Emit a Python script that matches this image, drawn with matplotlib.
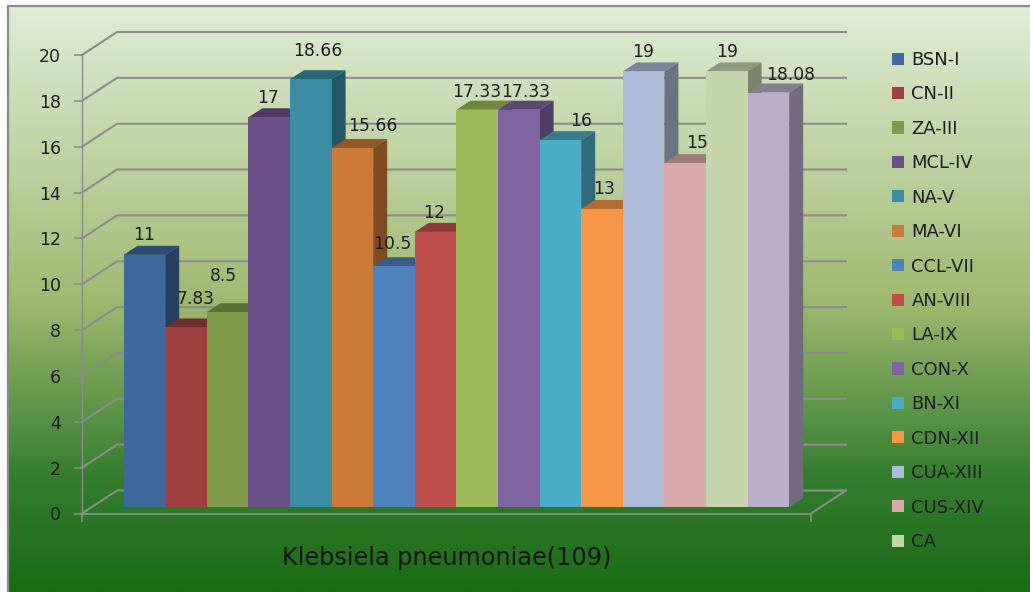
import matplotlib
matplotlib.use("Agg")
import matplotlib.pyplot as plt
import numpy as np
from matplotlib.colors import LinearSegmentedColormap, to_rgb
from matplotlib.patches import Polygon

# zone diameters, last bar has no legend entry
agents = ["BSN-I", "CN-II", "ZA-III", "MCL-IV", "NA-V", "MA-VI", "CCL-VII", "AN-VIII",
          "LA-IX", "CON-X", "BN-XI", "CDN-XII", "CUA-XIII", "CUS-XIV", "CA", ""]
values = [11, 7.83, 8.5, 17, 18.66, 15.66, 10.5, 12, 17.33, 17.33, 16, 13, 19, 15, 19, 18.08]
value_labels = ["11", "7.83", "8.5", "17", "18.66", "15.66", "10.5", "12",
                "17.33", "17.33", "16", "13", "19", "15", "19", "18.08"]
colors = ["#3F689C", "#9C4140", "#7F9B4A", "#6A5087", "#3A8CA5", "#CC7A38", "#4F81BD", "#C0504D",
          "#9BBB59", "#8064A2", "#4BACC6", "#F79646", "#AABAD7", "#D9AAA9", "#C6D6AC", "#B9ADC9"]
yticks = list(range(0, 21, 2))
xlabel = "Klebsiela pneumoniae(109)"

# label nudges in pixels, the labels do not sit evenly over their bars
label_dx = [0, 10, -4, -1, 7, 20, -2, -2, -1, 7, 21, 2, 0, 12, 0, 22]
label_dy = [20, 28, 36, 19, 28, 22, 22, 19, 18, 18, 19, 20, 19, 20, 19, 18]

W, H = 1030, 592
PX = 72 / 100
GRID = "#8c8c8c"
FONT = "DejaVu Sans"

plt.rcParams["font.family"] = FONT


def shade(color, factor):
    return tuple(c * factor for c in to_rgb(color))


def main():
    fig = plt.figure(figsize=(W / 100, H / 100), dpi=100, facecolor="white")
    draw_background(fig)

    ax = fig.add_axes([82 / W, (H - 513.5) / H, (811 - 82) / W, 458.5 / H])
    ax.patch.set_alpha(0)
    xmax = (811 - 82) / 41.6
    ax.set_xlim(0, xmax)
    ax.set_ylim(0, 20)
    unit_y = 458.5 / 20

    # depth of the chart walls and of each bar, in data units
    wall_dx, wall_dy = 35 / 41.6, 23 / unit_y
    bar_dx, bar_dy = 14 / 41.6, 9 / unit_y
    floor = 6.5 / unit_y

    for tick in yticks:
        ax.plot([0, wall_dx, xmax + wall_dx], [tick, tick + wall_dy, tick + wall_dy],
                color=GRID, lw=1.5, clip_on=False, zorder=1)
    ax.plot([xmax, xmax + wall_dx], [0, wall_dy], color=GRID, lw=1.5, clip_on=False, zorder=1)

    handles = []
    for i, (v, c) in enumerate(zip(values, colors)):
        z = 3 + i
        x0 = i + 1
        bar = ax.bar(x0, v, width=1, bottom=floor, align="edge", color=c, label=agents[i],
                     zorder=z + 0.2, clip_on=False)
        top = v + floor
        ax.add_patch(Polygon([(x0, top), (x0 + 1, top), (x0 + 1 + bar_dx, top + bar_dy), (x0 + bar_dx, top + bar_dy)],
                             closed=True, fc=shade(c, 0.72), ec="none", zorder=z, clip_on=False))
        ax.add_patch(Polygon([(x0 + 1, floor), (x0 + 1 + bar_dx, floor + bar_dy),
                              (x0 + 1 + bar_dx, top + bar_dy), (x0 + 1, top)],
                             closed=True, fc=shade(c, 0.62), ec="none", zorder=z, clip_on=False))
        if agents[i]:
            handles.append(bar)
        ax.annotate(value_labels[i], xy=(x0 + 0.5, top), xytext=(label_dx[i] * PX, label_dy[i] * PX),
                    textcoords="offset points", ha="center", va="center", fontsize=12.3,
                    color="#1c1c1c", zorder=40, annotation_clip=False)

    for side in ["top", "right"]:
        ax.spines[side].set_visible(False)
    ax.spines["left"].set_color(GRID)
    ax.spines["left"].set_linewidth(1.0)
    ax.spines["bottom"].set_color(GRID)
    ax.spines["bottom"].set_linewidth(1.3)

    ax.set_yticks(yticks)
    ax.set_xticks([0, xmax])
    ax.set_xticklabels(["", ""])
    ax.tick_params(axis="both", color=GRID, width=1.2, length=8 * PX, labelsize=12.5,
                   labelcolor="#1c1c1c", pad=13 * PX)
    ax.set_xlabel(xlabel, fontsize=17.3, color="#141414", labelpad=8)

    leg = ax.legend(handles=handles, loc="upper left", bbox_to_anchor=(892 / W, (H - 51) / H),
                    bbox_transform=fig.transFigure, frameon=False, fontsize=13,
                    handlelength=0.66, handleheight=0.66, handletextpad=0.42,
                    labelspacing=0.91, borderpad=0, borderaxespad=0, labelcolor="#1c1c1c")
    leg.set_zorder(50)

    fig.savefig("out.png", dpi=100)


def draw_background(fig):
    bg = fig.add_axes([8 / W, 0, 1 - 8 / W, (H - 6) / H], zorder=-1)
    cmap = LinearSegmentedColormap.from_list(
        "panel", [(0, "#E0ECD6"), (0.5, "#9FBA70"), (0.8, "#367E30"), (1, "#1A6B14")])
    bg.imshow(np.linspace(0, 1, 256).reshape(-1, 1), aspect="auto", cmap=cmap, vmin=0, vmax=1)
    bg.set_xticks([])
    bg.set_yticks([])
    for side in ["right", "bottom"]:
        bg.spines[side].set_visible(False)
    for side in ["left", "top"]:
        bg.spines[side].set_color("#8a8a8a")
        bg.spines[side].set_linewidth(1.6)


if __name__ == "__main__":
    main()
